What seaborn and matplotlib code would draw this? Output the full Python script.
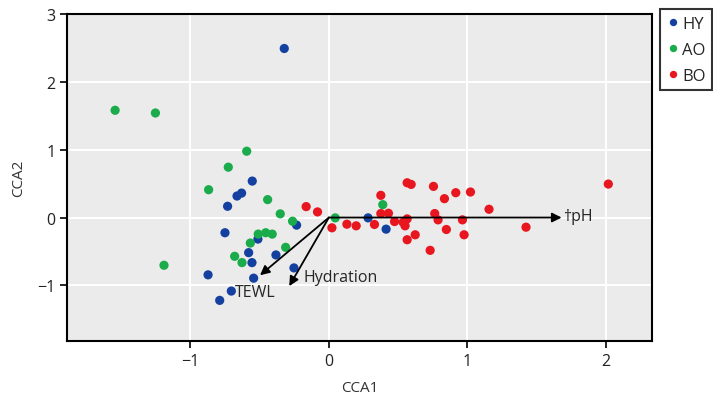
import matplotlib
matplotlib.use("Agg")
import matplotlib.pyplot as plt
import numpy as np
import pandas as pd
import seaborn as sns

# site scores
hy_x = [-0.322, -0.553, -0.63, -0.663, -0.731, -0.233, -0.75, -0.512, -0.579,
        -0.382, -0.555, -0.252, -0.872, -0.543, -0.704, -0.788, 0.283, 0.413]
hy_y = [2.49, 0.537, 0.36, 0.317, 0.166, -0.112, -0.224, -0.317, -0.517,
        -0.551, -0.664, -0.742, -0.844, -0.893, -1.083, -1.22, -0.005, -0.171]

ao_x = [-1.543, -1.252, -0.593, -0.726, -0.868, -0.442, -0.351, -0.262, 0.046,
        -0.51, -0.456, -0.409, -0.567, -0.312, -0.68, -0.627, -1.19, 0.389]
ao_y = [1.58, 1.54, 0.977, 0.742, 0.41, 0.264, 0.054, -0.054, -0.005,
        -0.244, -0.224, -0.244, -0.376, -0.439, -0.571, -0.664, -0.703, 0.19]

bo_x = [-0.164, -0.082, 0.022, 0.13, 0.197, 0.329, 0.375, 0.375, 0.43, 0.474,
        0.536, 0.565, 0.55, 0.565, 0.594, 0.623, 0.565, 0.731, 0.755, 0.764,
        0.788, 0.834, 0.916, 1.022, 0.848, 0.964, 0.976, 1.156, 1.423, 2.017]
bo_y = [0.161, 0.083, -0.151, -0.098, -0.122, -0.102, 0.327, 0.059, 0.063, -0.059,
        -0.07, -0.02, -0.122, 0.512, 0.488, -0.254, -0.327, -0.483, 0.459, 0.059,
        -0.034, 0.278, 0.366, 0.376, -0.176, -0.034, -0.254, 0.122, -0.142, 0.493]

groups = ["HY", "AO", "BO"]
colors = ["#1441a0", "#1aab4b", "#e8161e"]

# environmental vectors
vec_names = ["\u2020pH", "TEWL", "Hydration"]
vec_x = [1.68, -0.497, -0.286]
vec_y = [0.0, -0.85, -1.01]

df = pd.DataFrame({
    "CCA1": hy_x + ao_x + bo_x,
    "CCA2": hy_y + ao_y + bo_y,
    "group": ["HY"] * len(hy_x) + ["AO"] * len(ao_x) + ["BO"] * len(bo_x),
})

sns.set_theme(style="darkgrid")
plt.rcParams["font.family"] = ["Open Sans", "DejaVu Sans"]
plt.rcParams["axes.facecolor"] = "#ebebeb"

fig = plt.figure(figsize=(7.13, 4.02), dpi=100)
ax = fig.add_axes([0.094, 0.149, 0.82, 0.814])
ax.set_facecolor("#ebebeb")

sns.scatterplot(data=df, x="CCA1", y="CCA2", hue="group", hue_order=groups,
                palette=colors, s=44, edgecolor="none", ax=ax, zorder=3)

# arrows from the origin
for name, vx, vy in zip(vec_names, vec_x, vec_y):
    ax.annotate("", xy=(vx, vy), xytext=(0, 0),
                arrowprops=dict(arrowstyle="-|>", color="black", lw=1.3,
                                mutation_scale=14, shrinkA=0, shrinkB=0),
                zorder=4)
ax.text(1.69, 0.03, vec_names[0], fontsize=11.5, va="center", ha="left")
ax.text(-0.68, -1.1, vec_names[1], fontsize=11.5, va="center", ha="left")
ax.text(-0.18, -0.87, vec_names[2], fontsize=11.5, va="center", ha="left")

ax.set_xlim(-1.89, 2.33)
ax.set_ylim(-1.82, 3.0)
ax.set_xticks([-1, 0, 1, 2])
ax.set_yticks([-1, 0, 1, 2, 3])
ax.set_xticklabels(["\u22121", "0", "1", "2"])
ax.set_yticklabels(["\u22121", "0", "1", "2", "3"])
ax.grid(True, color="white", lw=1.5)
ax.set_axisbelow(True)
for sp in ax.spines.values():
    sp.set_visible(True)
    sp.set_color("black")
    sp.set_linewidth(1.5)
ax.tick_params(direction="out", length=5, width=1.2, color="black",
               labelsize=11.5, labelcolor="#222222", bottom=True, left=True)
ax.set_xlabel("CCA1", fontsize=11, color="#333333", labelpad=8)
ax.set_ylabel("CCA2", fontsize=11, color="#333333", labelpad=8)

handles, labels = ax.get_legend_handles_labels()
ax.legend_.remove()
leg = fig.legend(handles, labels, loc="upper left",
                 bbox_to_anchor=(0.926, 0.975), frameon=True, fancybox=False,
                 fontsize=12, handletextpad=0.2, handlelength=0.7,
                 borderpad=0.4, borderaxespad=0, labelspacing=0.6,
                 markerscale=0.8)
leg.get_frame().set_edgecolor("black")
leg.get_frame().set_linewidth(1.5)
leg.get_frame().set_facecolor("white")

fig.savefig("out.png", dpi=100, facecolor="white")
